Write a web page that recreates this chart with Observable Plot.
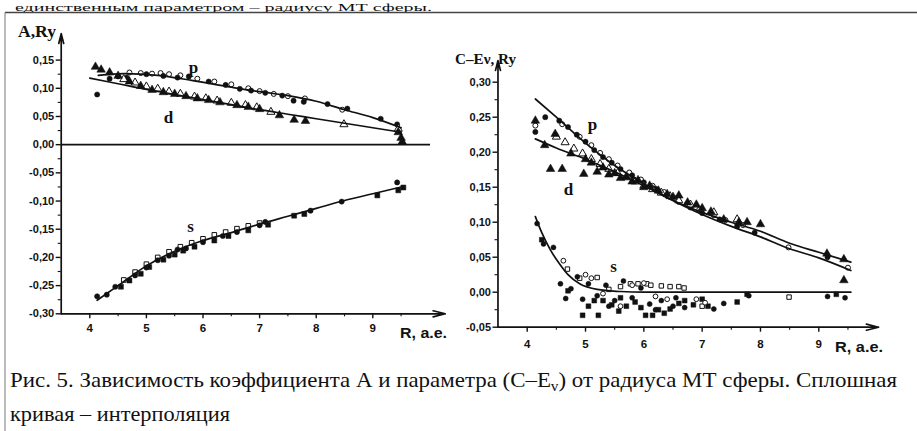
<!DOCTYPE html>
<html><head><meta charset="utf-8">
<script src="https://cdn.jsdelivr.net/npm/d3@7"></script>
<script src="https://cdn.jsdelivr.net/npm/@observablehq/plot@0.6"></script>
<style>
html,body{margin:0;padding:0;background:#fff;}
#wrap{position:relative;width:917px;height:431px;overflow:hidden;background:#fff;}
#wrap svg{position:absolute;}
</style></head><body><div id="wrap"></div>
<script>
// ---------- ticks ----------
const xTicks = [4, 5, 6, 7, 8, 9];
const xMinor = [4.5, 5.5, 6.5, 7.5, 8.5, 9.5];
const yTicksL = [-0.30, -0.25, -0.20, -0.15, -0.10, -0.05, 0.00, 0.05, 0.10, 0.15];
const yMinorL = [-0.275, -0.225, -0.175, -0.125, -0.075, -0.025, 0.025, 0.075, 0.125];
const yTicksR = [-0.05, 0.00, 0.05, 0.10, 0.15, 0.20, 0.25, 0.30];
const yMinorR = [-0.025, 0.025, 0.075, 0.125, 0.175, 0.225, 0.275];

// ---------- Left panel: coefficient A (Ry) vs R (a.e.) ----------
const pLineL = [[4.15,0.123],[4.6,0.126],[5.2,0.123],[5.8,0.114],[6.5,0.102],[7.0,0.094],[7.5,0.087],[8.0,0.077],[8.5,0.062],[9.0,0.048],[9.5,0.030]];
const dLineL = [[4.0,0.118],[4.5,0.108],[5.0,0.098],[5.5,0.089],[6.0,0.080],[6.5,0.071],[7.0,0.062],[7.5,0.054],[8.0,0.046],[8.5,0.038],[9.0,0.030],[9.5,0.022]];
const sLineL = [[4.13,-0.276],[4.5,-0.250],[5.0,-0.215],[5.5,-0.189],[6.0,-0.170],[6.5,-0.156],[7.0,-0.141],[7.5,-0.127],[8.0,-0.113],[8.5,-0.099],[9.0,-0.087],[9.55,-0.074]];

const pFilledL = [[4.13,0.089],[4.35,0.117],[4.5,0.121],[4.65,0.119],[5.0,0.125],[5.3,0.122],[5.55,0.119],[5.75,0.121],[6.1,0.112],[6.4,0.106],[6.65,0.099],[6.85,0.096],[7.1,0.092],[7.4,0.087],[7.6,0.078],[7.78,0.076],[8.2,0.072],[8.55,0.064],[9.14,0.046],[9.43,0.036]];
const pOpenL = [[4.7,0.128],[4.9,0.127],[5.1,0.126],[5.25,0.127],[5.4,0.125],[5.6,0.123],[5.9,0.117],[6.2,0.112],[6.5,0.107],[6.8,0.100],[7.0,0.095],[7.25,0.090],[7.5,0.086],[7.8,0.082],[8.46,0.062]];
const dFilledL = [[4.1,0.138],[4.2,0.133],[4.35,0.128],[4.5,0.122],[4.7,0.112],[4.9,0.104],[5.1,0.097],[5.3,0.093],[5.5,0.090],[5.7,0.086],[5.9,0.082],[6.1,0.079],[6.3,0.075],[6.6,0.070],[6.8,0.067],[7.0,0.063],[7.35,0.052],[7.61,0.044],[7.81,0.042],[9.45,0.022],[9.5,0.012],[9.52,0.005]];
const dOpenL = [[4.6,0.116],[4.8,0.110],[5.0,0.103],[5.2,0.099],[5.4,0.094],[5.6,0.090],[5.85,0.085],[6.05,0.082],[6.25,0.078],[6.5,0.074],[6.75,0.070],[6.95,0.066],[7.2,0.058],[8.49,0.036],[9.45,0.028]];
const sFilledSqL = [[4.55,-0.252],[4.7,-0.241],[4.9,-0.229],[5.05,-0.217],[5.3,-0.204],[5.5,-0.195],[5.65,-0.188],[5.85,-0.181],[6.2,-0.170],[6.45,-0.162],[6.8,-0.152],[7.15,-0.142],[7.61,-0.126],[7.79,-0.123],[9.08,-0.090],[9.45,-0.081],[9.54,-0.076]];
const sFilledCircL = [[4.13,-0.269],[4.3,-0.266],[4.45,-0.252],[4.8,-0.232],[5.0,-0.218],[5.2,-0.205],[5.4,-0.197],[5.55,-0.186],[5.7,-0.184],[6.0,-0.173],[6.35,-0.162],[6.6,-0.155],[7.0,-0.143],[7.1,-0.137],[7.9,-0.117],[8.45,-0.101],[9.43,-0.067]];
const sOpenSqL = [[4.6,-0.240],[4.8,-0.226],[5.0,-0.212],[5.2,-0.200],[5.4,-0.190],[5.6,-0.181],[5.8,-0.174],[6.0,-0.167],[6.2,-0.160],[6.4,-0.155],[6.6,-0.149],[6.8,-0.144],[7.0,-0.139]];

// ---------- Right panel: C - Ev (Ry) vs R (a.e.) ----------
const pLineR = [[4.14,0.276],[4.5,0.250],[5.0,0.213],[5.5,0.181],[6.0,0.155],[6.5,0.131],[7.0,0.111],[7.5,0.094],[8.0,0.079],[8.5,0.062],[9.0,0.049],[9.55,0.031]];
const dLineR = [[4.14,0.219],[4.5,0.206],[5.0,0.190],[5.5,0.172],[6.0,0.152],[6.5,0.131],[7.0,0.114],[7.5,0.100],[8.0,0.087],[8.5,0.070],[9.0,0.057],[9.55,0.043]];
const sLineR = [[4.14,0.108],[4.25,0.085],[4.4,0.060],[4.55,0.041],[4.7,0.025],[4.9,0.012],[5.2,0.004],[5.6,0.001],[6.0,0.0],[9.55,0.0]];

const pFilledR = [[4.14,0.229],[4.31,0.250],[4.55,0.245],[4.7,0.236],[4.85,0.225],[5.0,0.215],[5.15,0.203],[5.3,0.193],[5.45,0.185],[5.6,0.176],[5.8,0.167],[6.0,0.157],[6.2,0.148],[6.4,0.138],[6.6,0.129],[6.8,0.121],[7.0,0.113],[7.3,0.104],[7.6,0.094],[7.9,0.085],[9.15,0.050]];
const pOpenR = [[4.14,0.238],[4.6,0.240],[4.9,0.222],[5.1,0.210],[5.25,0.199],[5.4,0.190],[5.55,0.181],[5.75,0.171],[5.95,0.161],[6.15,0.152],[6.35,0.143],[6.55,0.134],[6.74,0.126],[6.95,0.118],[7.2,0.110],[7.4,0.103],[7.7,0.096],[8.48,0.064],[9.5,0.035]];
const dFilledR = [[4.14,0.245],[4.48,0.226],[4.3,0.210],[4.4,0.176],[4.6,0.176],[4.75,0.198],[4.97,0.169],[5.0,0.190],[5.1,0.185],[5.2,0.172],[5.3,0.178],[5.4,0.168],[5.5,0.170],[5.6,0.163],[5.7,0.165],[5.8,0.158],[5.9,0.160],[6.0,0.150],[6.1,0.152],[6.25,0.145],[6.4,0.140],[6.5,0.136],[6.6,0.138],[6.75,0.128],[6.9,0.125],[7.0,0.120],[7.15,0.115],[7.37,0.104],[7.63,0.100],[7.77,0.100],[8.0,0.097],[9.14,0.055],[9.43,0.047],[9.43,0.017]];
const dOpenR = [[4.5,0.222],[4.65,0.214],[4.8,0.205],[4.95,0.198],[5.1,0.190],[5.25,0.183],[5.4,0.176],[5.55,0.170],[5.7,0.164],[5.85,0.158],[6.0,0.152],[6.15,0.147],[6.3,0.142],[6.45,0.137],[6.6,0.131],[6.8,0.125],[7.2,0.114],[7.6,0.104]];
const sFilledCircR = [[4.17,0.098],[4.28,0.069],[4.45,0.064],[4.57,0.012],[4.66,-0.009],[4.75,0.005],[4.86,0.022],[4.95,-0.010],[5.05,0.012],[5.2,-0.005],[5.35,0.010],[5.4,-0.020],[5.5,-0.012],[5.65,0.016],[5.8,-0.008],[5.95,0.006],[6.1,-0.017],[6.2,-0.025],[6.3,-0.012],[6.5,-0.020],[6.55,-0.008],[6.7,-0.022],[7.2,-0.024],[7.37,-0.016],[7.8,-0.005],[9.15,-0.006],[9.45,-0.008]];
const sOpenSqR = [[4.69,0.033],[4.9,0.020],[5.2,0.021],[5.4,0.004],[5.6,0.008],[5.77,0.012],[5.9,0.012],[6.05,0.012],[6.12,0.010],[6.3,0.009],[6.45,0.008],[6.6,0.008],[6.69,0.006],[7.0,-0.020],[8.49,-0.007]];
const sFilledSqR = [[4.25,0.075],[4.7,0.002],[4.95,-0.033],[5.05,-0.020],[5.15,-0.012],[5.22,-0.033],[5.3,-0.012],[5.45,-0.018],[5.57,-0.027],[5.6,-0.008],[5.7,-0.020],[5.85,-0.014],[5.95,-0.022],[6.03,-0.033],[6.15,-0.033],[6.25,-0.025],[6.35,-0.030],[6.45,-0.024],[6.6,-0.016],[6.7,-0.012],[6.85,-0.018],[7.0,-0.010],[7.1,-0.020],[7.6,-0.014],[7.77,-0.003],[9.3,-0.003]];
const sOpenCircR = [[4.62,0.045],[5.0,0.025],[5.1,0.020],[5.3,-0.002],[5.6,-0.020],[5.8,0.010],[6.0,0.013],[6.2,-0.006],[6.4,-0.010],[6.9,-0.010],[7.05,-0.015]];

const seriesLabels = ["p", "d", "s"];

// ---------- helpers ----------
const INK = "#111";
const pts = arr => arr.map(([R, v]) => ({R, v}));
const fmt = v => (v < 0 ? "-" : "") + Math.abs(v).toFixed(2).replace(".", ",");
const TICKFONT = "'Liberation Sans Narrow', 'Liberation Sans', Arial, sans-serif";

function dots(arr, symbol, open, r) {
  return Plot.dot(pts(arr), {x: "R", y: "v", symbol, r,
    fill: open ? "white" : INK, stroke: INK, strokeWidth: open ? 1 : 0.5});
}
function curve(arr) {
  return Plot.line(pts(arr), {x: "R", y: "v", curve: "monotone-x", stroke: INK, strokeWidth: 1.7});
}

function panel(cfg) {
  const marks = [
    ...cfg.layers,
    Plot.axisY(cfg.yTicks, {anchor: "left", tickSize: 5, tickPadding: 2, tickFormat: fmt,
      fontSize: 11, fontWeight: "bold", fontFamily: TICKFONT, strokeWidth: 1.4, fill: INK, stroke: INK}),
    Plot.axisY(cfg.yMinor, {anchor: "left", tickSize: 3, tickFormat: () => "", strokeWidth: 1.1, stroke: INK}),
    Plot.axisX(xTicks, {anchor: "bottom", tickSize: 5, tickPadding: cfg.xPad, tickFormat: d => String(d),
      fontSize: 11.5, fontWeight: "bold", fontFamily: TICKFONT, strokeWidth: 1.4, fill: INK, stroke: INK}),
    Plot.axisX(xMinor, {anchor: "bottom", tickSize: 3, tickFormat: () => "", strokeWidth: 1.1, stroke: INK}),
    Plot.arrow([cfg.xArrow], {x1: "x1", y1: "y1", x2: "x2", y2: "y2", stroke: INK, strokeWidth: 1.7, headLength: 11, headAngle: 28}),
    Plot.arrow([cfg.yArrow], {x1: "x1", y1: "y1", x2: "x2", y2: "y2", stroke: INK, strokeWidth: 1.7, headLength: 9, headAngle: 28}),
    Plot.text(cfg.labels, {x: "R", y: "v", text: "t", fontSize: 17, fontWeight: "bold",
      fontFamily: "'Liberation Serif', 'Times New Roman', serif", fill: INK})
  ];
  const svg = Plot.plot({
    width: cfg.width, height: cfg.height,
    marginLeft: cfg.mL, marginRight: cfg.width - cfg.xEndPx, marginTop: cfg.mT, marginBottom: cfg.height - cfg.axisYPx,
    x: {domain: [4, 9], range: cfg.xRange},
    y: {domain: cfg.yDomain, range: cfg.yRange},
    style: {background: "transparent", overflow: "visible", color: INK},
    marks
  });
  svg.style.left = cfg.left + "px";
  svg.style.top = "0px";
  return svg;
}

const wrap = document.getElementById("wrap");

const left = panel({
  left: 0, width: 470, height: 360, mL: 60.7, mT: 33, xEndPx: 445, axisYPx: 313.3,
  xRange: [89.3, 372.3], yDomain: [-0.30, 0.15], yRange: [313.3, 59.6], xPad: 5,
  yTicks: yTicksL, yMinor: yMinorL,
  xArrow: {x1: 3.495, y1: -0.30, x2: 10.28, y2: -0.30},
  yArrow: {x1: 3.495, y1: -0.30, x2: 3.495, y2: 0.197},
  labels: [{R: 5.83, v: 0.136, t: seriesLabels[0]}, {R: 5.39, v: 0.048, t: seriesLabels[1]}, {R: 5.78, v: -0.146, t: seriesLabels[2]}],
  layers: [
    Plot.ruleY([{y: 0, a: 3.495, b: 10.02}], {y: "y", x1: "a", x2: "b", stroke: INK, strokeWidth: 1.6}),
    dots(sOpenSqL, "square", true, 2.6), dots(sFilledSqL, "square", false, 2.8), dots(sFilledCircL, "circle", false, 2.6),
    dots(pOpenL, "circle", true, 2.5), dots(pFilledL, "circle", false, 2.6),
    dots(dOpenL, "triangle", true, 3.0), dots(dFilledL, "triangle", false, 3.2),
    curve(pLineL), curve(dLineL), curve(sLineL)
  ]
});

const right = panel({
  left: 450, width: 467, height: 360, mL: 47.5, mT: 60, xEndPx: 428, axisYPx: 326.7,
  xRange: [76.7, 368.3], yDomain: [-0.05, 0.30], yRange: [326.7, 81.7], xPad: 8,
  yTicks: yTicksR, yMinor: yMinorR,
  xArrow: {x1: 3.499, y1: -0.05, x2: 10.024, y2: -0.05},
  yArrow: {x1: 3.499, y1: -0.05, x2: 3.499, y2: 0.331},
  labels: [{R: 5.12, v: 0.240, t: seriesLabels[0]}, {R: 4.71, v: 0.146, t: seriesLabels[1]}, {R: 5.48, v: 0.036, t: seriesLabels[2]}],
  layers: [
    dots(sOpenSqR, "square", true, 2.5), dots(sFilledSqR, "square", false, 2.7), dots(sOpenCircR, "circle", true, 2.4), dots(sFilledCircR, "circle", false, 2.5),
    dots(pOpenR, "circle", true, 2.5), dots(pFilledR, "circle", false, 2.6),
    dots(dOpenR, "triangle", true, 3.0), dots(dFilledR, "triangle", false, 3.2),
    curve(pLineR), curve(dLineR), curve(sLineR)
  ]
});

wrap.appendChild(left);
wrap.appendChild(right);

// ---------- overlay: page text, axis titles, caption ----------
const NS = "http://www.w3.org/2000/svg";
const ov = document.createElementNS(NS, "svg");
ov.setAttribute("width", 917); ov.setAttribute("height", 431);
ov.style.left = "0px"; ov.style.top = "0px";
ov.innerHTML = `
<g font-family="'Liberation Serif','Times New Roman',serif" fill="#111">
  <text x="15" y="10.5" font-size="11" textLength="417" lengthAdjust="spacingAndGlyphs">единственным параметром – радиусу МТ сферы.</text>
  <text x="10" y="387" font-size="21" textLength="887" lengthAdjust="spacingAndGlyphs">Рис. 5. Зависимость коэффициента А и параметра (С–E<tspan font-size="14" dy="4">v</tspan><tspan dy="-4">) от радиуса МТ сферы. Сплошная</tspan></text>
  <text x="10" y="421" font-size="21" textLength="220" lengthAdjust="spacingAndGlyphs">кривая – интерполяция</text>
  <text x="18" y="37" font-size="16" font-weight="bold" textLength="38" lengthAdjust="spacingAndGlyphs">A,Ry</text>
  <text x="455" y="64" font-size="15" font-weight="bold" textLength="61" lengthAdjust="spacingAndGlyphs">C–Eν, Ry</text>
</g>
<g font-family="'Liberation Sans','Arial',sans-serif" font-weight="bold" fill="#111">
  <text x="400" y="338" font-size="15" textLength="47" lengthAdjust="spacingAndGlyphs">R, a.e.</text>
  <text x="835" y="352" font-size="15" textLength="48" lengthAdjust="spacingAndGlyphs">R, a.e.</text>
</g>
<line x1="5" y1="12.5" x2="917" y2="12.5" stroke="#444" stroke-width="1.3"/>
<line x1="5" y1="12.5" x2="5" y2="431" stroke="#777" stroke-width="1"/>
`;
wrap.appendChild(ov);
</script></body></html>
